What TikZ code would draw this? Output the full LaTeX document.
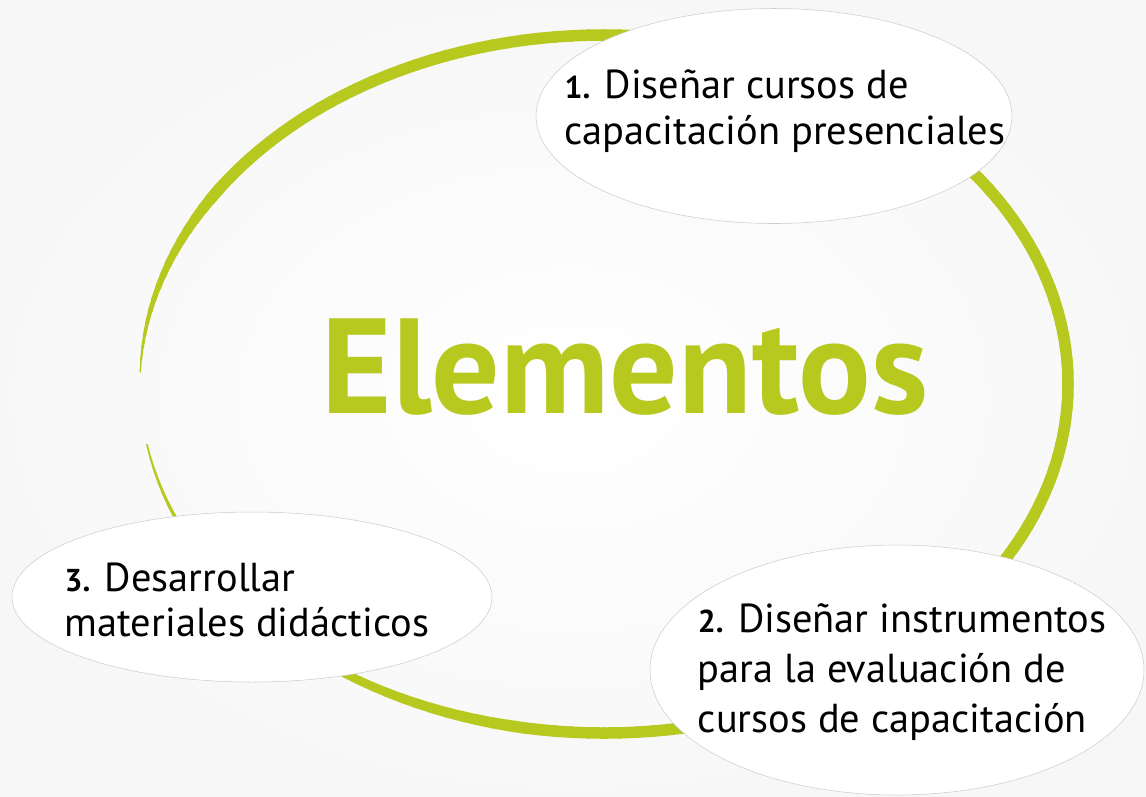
\documentclass[tikz,border=0pt]{standalone}
\usepackage{fontspec}
\setmainfont{PT Sans}
\usepackage{tikz}
\usetikzlibrary{positioning, shapes.geometric, calc}
\definecolor{leaf}{RGB}{183,200,30}
\newcommand{\num}[1]{{\bfseries\fontsize{18}{26}\selectfont #1}}
\tikzset{
  bubble/.style = {draw=gray!40, line width=0.3pt, fill=white,
                   ellipse, inner sep=0pt},
  item/.style   = {align=left, inner sep=0pt, text=black,
                   font=\fontsize{23}{26}\selectfont},
  title/.style  = {text=leaf, inner sep=0pt,
                   font=\fontsize{77}{84}\selectfont\bfseries},
  brush/.style  = {draw=leaf, line cap=round},
}

\begin{document}
\begin{tikzpicture}

% ────────────────────────────────────────────────────────────
%  Frame : 1146 x 796 px  ->  22.92 x 15.92 cm  (1 px = 0.02 cm)
% ────────────────────────────────────────────────────────────
\useasboundingbox (0,0) rectangle (22.92,-15.92);
\shade[inner color=white, outer color=black!3] (0,0) rectangle (22.92,-15.92);

% ═══════════════════════════════════════════════════════════
%  Green brush ring  –  centre (12.08,-7.68), tapered at both ends
% ═══════════════════════════════════════════════════════════
\coordinate (ring) at (12.08,-7.68);
\foreach \a in {178,176,...,-168}{
  \pgfmathsetmacro{\w}{0.03+0.2*min(1,min((178-\a)/30,(\a+170)/70))}
  \draw[brush, line width=\w cm]
    ($(ring)+(\a:9.28 and 6.98)$)
    arc[start angle=\a, end angle=\a-2, x radius=9.28cm, y radius=6.98cm];
}

% ═══════════════════════════════════════════════════════════
%  Title
% ═══════════════════════════════════════════════════════════
\node[title, anchor=base] (elem) at (12.5,-8.26) {Elementos};

% ═══════════════════════════════════════════════════════════
%  Bubbles
% ═══════════════════════════════════════════════════════════
\node[bubble, minimum width=9.52cm, minimum height=4.3cm] (b1) at (15.48,-2.32) {};
\node[item] (t1) at (15.70,-2.22)
  {\num{1.} Diseñar cursos de\\
   capacitación presenciales};

\node[bubble, minimum width=9.88cm, minimum height=5.0cm] (b2) at (17.94,-13.40) {};
\node[item, font=\fontsize{23}{28.5}\selectfont] (t2) at (18.04,-13.44)
  {\num{2.} Diseñar instrumentos\\
   para la evaluación de\\
   cursos de capacitación};

\node[bubble, minimum width=9.6cm, minimum height=3.4cm] (b3) at (5.04,-11.94) {};
\node[item] (t3) at (4.94,-12.0)
  {\num{3.} Desarrollar\\
   materiales didácticos};

\end{tikzpicture}
\end{document}
